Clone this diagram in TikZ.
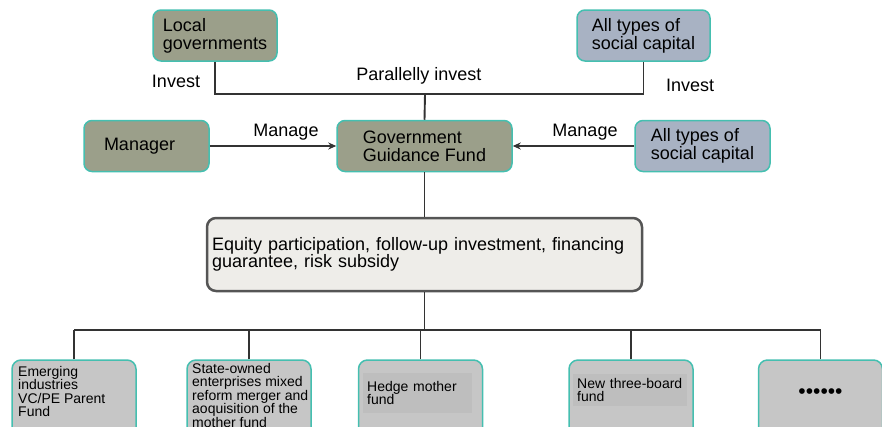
\documentclass[tikz,border=0pt]{standalone}
\usepackage{fontspec}
\setmainfont{Liberation Sans}
\usepackage{xcolor}
\usetikzlibrary{positioning, arrows.meta, calc}
\definecolor{boxteal}{HTML}{45BFB0}
\definecolor{olivegray}{HTML}{9B9F8A}
\definecolor{slateblue}{HTML}{A8B2C3}
\definecolor{leafgray}{HTML}{C6C6C6}
\definecolor{leafshade}{HTML}{BEBEBE}
\definecolor{paleivory}{HTML}{EEEDE9}
\definecolor{framegray}{HTML}{555555}
\definecolor{linegray}{HTML}{333333}

\tikzset{
  fundbox/.style={draw=boxteal, line width=1.5pt, rounded corners=8pt, align=left,
                  font={\fontsize{18}{18}\selectfont}, minimum height=51pt, inner sep=0pt},
  leafbox/.style={draw=boxteal, line width=1.5pt, fill=leafgray, rounded corners=9pt,
                  minimum width=124pt, minimum height=90pt},
  leaftext/.style={align=left, inner sep=0pt, anchor=north west,
                   font={\fontsize{14}{13.5}\selectfont}},
  tag/.style={anchor=base, inner sep=0pt, font={\fontsize{18}{18}\selectfont}},
  link/.style={draw=linegray, line width=1.9pt},
  push/.style={link, -{Stealth[length=8pt,width=7pt]}}
}

\begin{document}
\begin{tikzpicture}[x=1pt, y=-1pt]
  \useasboundingbox (0,0) rectangle (882,426);

  \node[fundbox, fill=olivegray, minimum width=124pt] (localgov) at (215,35.5) {Local\\governments};
  \node[fundbox, fill=slateblue, minimum width=133pt] (topcapital) at (643.5,35.5) {All types of\\social capital};
  \node[fundbox, fill=olivegray, minimum width=125pt, inner xsep=20pt, align=left,
        text width=85pt] (manager) at (146.5,146) {Manager};
  \node[fundbox, fill=olivegray, minimum width=175pt] (guidefund) at (424.5,146) {Government\\Guidance Fund};
  \node[fundbox, fill=slateblue, minimum width=135pt] (sidecapital) at (702.5,146) {All types of\\social capital};

  \node[tag] (investleft) at (176,87) {Invest};
  \node[tag] (parallel) at (419,80.5) {Parallelly invest};
  \node[tag] (investright) at (690,91) {Invest};
  \node[tag] (manageleft) at (286,136) {Manage};
  \node[tag] (manageright) at (585,136) {Manage};

  \node[draw=framegray, line width=2.5pt, fill=paleivory, rounded corners=9pt,
        text width=425pt, inner xsep=5pt, minimum height=73pt, align=left,
        font={\fontsize{18}{17.5}\selectfont}] (support) at (424.5,254.5)
        {Equity participation, follow-up investment, financing guarantee, risk subsidy};

  \node[leafbox] (emerging) at (74,405) {};
  \node[leafbox] (stateowned) at (249,405) {};
  \node[leafbox] (hedge) at (420.5,405) {};
  \node[leafbox] (newboard) at (631,405) {};
  \node[leafbox] (more) at (820.5,405) {};

  \node[leaftext] (emergingtext) at (18,366) {Emerging\\industries\\VC/PE Parent\\Fund};
  \node[leaftext] (stateownedtext) at (192,363) {State-owned\\enterprises mixed\\reform merger and\\aoquisition of the\\mother fund};
  \node[leaftext, fill=leafshade, inner xsep=4pt, inner ysep=8pt, text width=101pt] (hedgetext) at (363,373) {Hedge mother\\fund};
  \node[leaftext, fill=leafshade, inner xsep=4pt, inner ysep=4pt, text width=106pt] (newboardtext) at (573,374) {New three-board\\fund};
  \node[font={\fontsize{21}{21}\selectfont}, inner sep=0pt] (moretext) at (820.5,394) {••••••};

  \coordinate (joint) at (425,94);
  \draw[link] (localgov.south) |- (joint) -| (topcapital.south);
  \draw[link] (joint) -- (guidefund.north);
  \draw[push] (manager) -- (guidefund);
  \draw[push] (sidecapital) -- (guidefund);
  \draw[link] (guidefund) -- (support);

  \coordinate (fork) at (422,330);
  \draw[link] (support.south) -- (support.south |- fork);
  \draw[link] (emerging.north |- fork) -- (more.north |- fork);
  \foreach \leaf in {emerging, stateowned, hedge, newboard, more}
    \draw[link] (\leaf.north) -- (\leaf.north |- fork);
\end{tikzpicture}
\end{document}
